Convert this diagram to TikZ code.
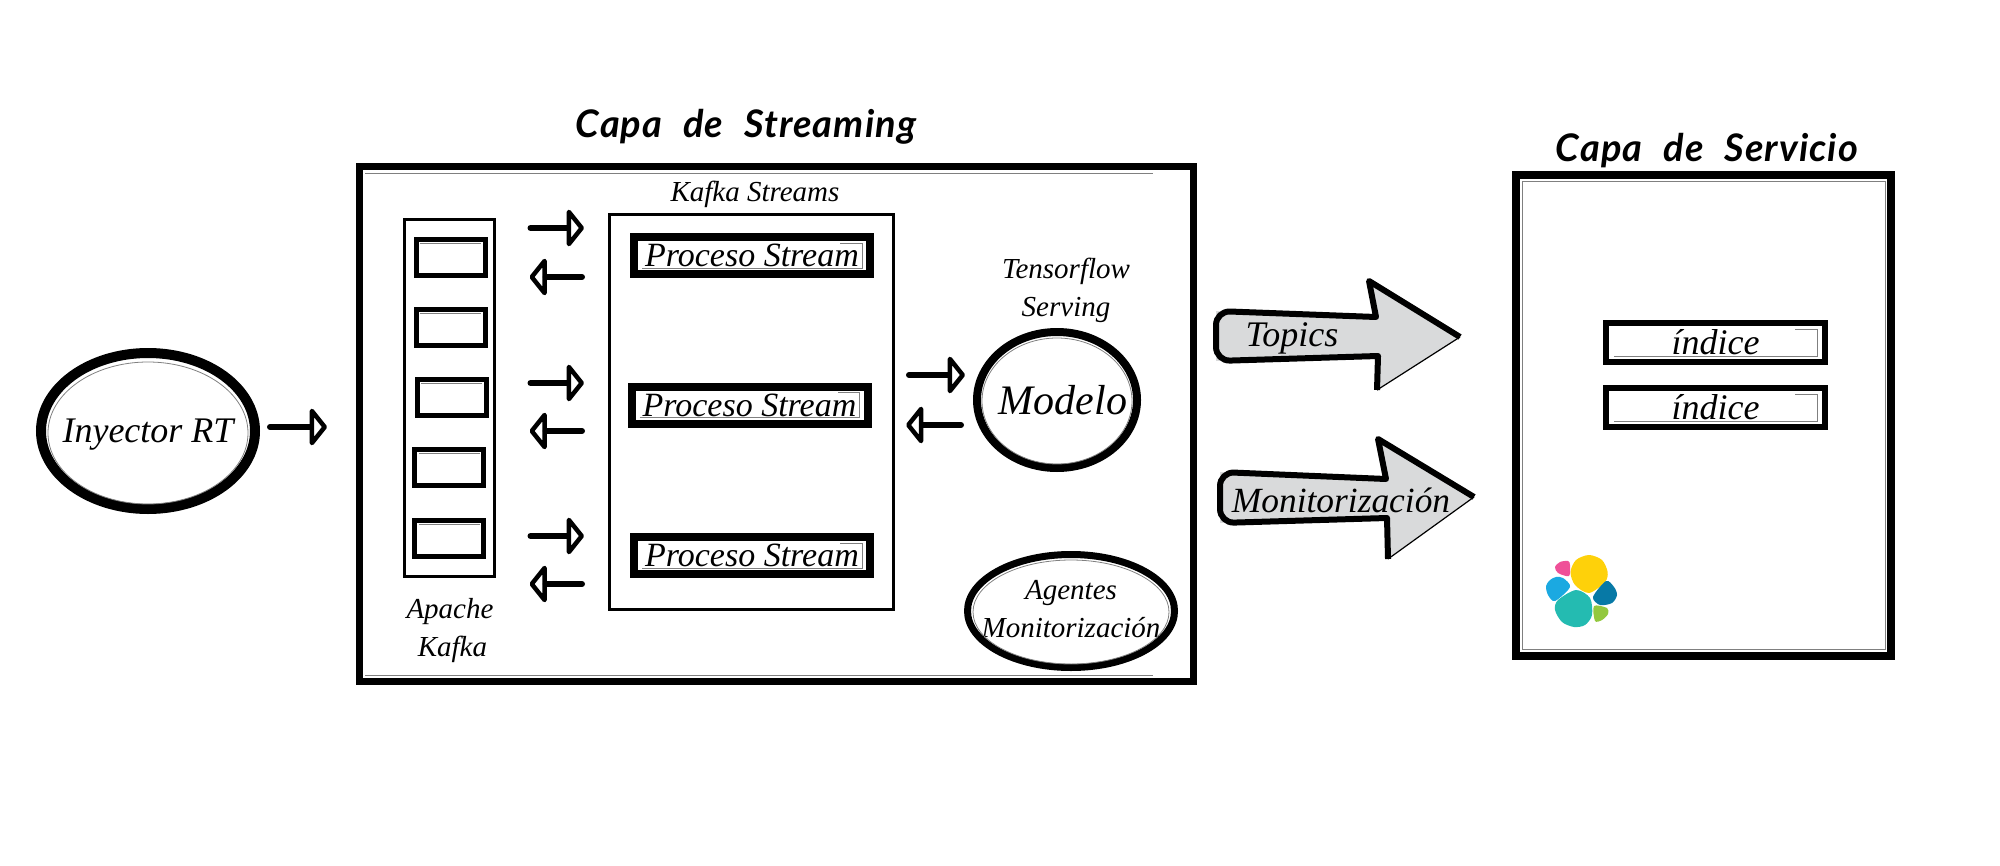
\documentclass[tikz,border=0pt]{standalone}
\usepackage{fontspec}
\setmainfont{Liberation Serif}
\newfontfamily\manoscrita[LetterSpace=3,WordSpace=2.2]{Lato}
\usetikzlibrary{arrows.meta,shapes.geometric}

\definecolor{grisflecha}{HTML}{D9DADB}
\definecolor{logoamarillo}{HTML}{FED10A}
\definecolor{logorosa}{HTML}{EF5098}
\definecolor{logoazul}{HTML}{1BA9E1}
\definecolor{logomarino}{HTML}{0779A6}
\definecolor{logoturquesa}{HTML}{24BBB1}
\definecolor{logoverde}{HTML}{93C83E}

\tikzset{
  texto/.style={font=\itshape\fontsize{#1}{19pt}\selectfont,inner sep=0pt,align=center},
  titulo/.style={font=\manoscrita\bfseries\itshape\fontsize{19}{22}\selectfont,inner sep=0pt},
  caja/.style={draw,outer sep=0pt,inner sep=0pt,line width=#1},
  fino/.style={gray,line width=0.4pt},
  flecha/.style={line width=3pt,line cap=round,
    -{Triangle[open,length=9pt,width=22pt,line width=2.8pt,round]}},
  borde/.style={line width=3pt,line join=round}
}

\begin{document}
\begin{tikzpicture}[x=0.5pt,y=-0.5pt] % 1 unit = 1 pixel of the reference
\useasboundingbox (0,0) rectangle (2000,866);

\node[titulo] (tstreaming) at (746,127) {Capa de Streaming};
\node[titulo] (tservicio) at (1707,151) {Capa de Servicio};

% capa de streaming
\node[caja=3.5pt,minimum width=417pt,minimum height=257pt] (capa) at (776,424) {};
\draw[fino] ([shift={(6,6)}]capa.north west) -- ([shift={(-40,6)}]capa.north east);
\draw[fino] ([shift={(6,-6)}]capa.south west) -- ([shift={(-40,-6)}]capa.south east);

\node[caja=1.5pt,minimum width=45pt,minimum height=178pt] (kafka) at (449.5,398) {};
\foreach \n/\x/\y in {1/450.5/257,2/450.5/327,3/451.5/397,4/449/467,5/449/538}
\node[caja=2.5pt,minimum width=34.5pt,minimum height=18pt] (topic\n) at (\x,\y) {};
\node[texto=14.5] (tkafka) at (450,631) {Apache\\ \,Kafka};

\node[caja=1.5pt,minimum width=142pt,minimum height=197pt] (streams) at (751,412) {};
\node[texto=14.5] (tstreams) at (755,194) {Kafka Streams};
\node[caja=4pt,texto=17,minimum width=118pt,minimum height=18.5pt] (proc1) at (752,255.5) {Proceso Stream};
\node[caja=4pt,texto=17,minimum width=118pt,minimum height=18.5pt] (proc2) at (749.5,405) {Proceso Stream};
\node[caja=4pt,texto=17,minimum width=118pt,minimum height=18.5pt] (proc3) at (752,555.5) {Proceso Stream};

\node[texto=14.5] (ttensor) at (1066,290) {Tensorflow\\ Serving};
\node[caja=4pt,ellipse,minimum width=80pt,minimum height=68pt] (modelo) at (1057,400) {};
\node[texto=21] (tmodelo) at ([xshift=3pt]modelo.center) {Modelo};
\node[caja=3.5pt,ellipse,minimum width=103.5pt,minimum height=56.5pt] (agentes) at (1071,611) {};
\node[texto=14.5] (tagentes) at ([yshift=1pt]agentes.center) {Agentes\\ Monitorización};

\node[caja=5pt,ellipse,minimum width=107pt,minimum height=78pt] (iny) at (148,431) {};
\node[texto=18] (tiny) at ([yshift=-2pt]iny.center) {Inyector RT};

\draw[fino] (1057,401) ellipse [x radius=75,y radius=63];
\draw[fino] (1071,612) ellipse [x radius=98,y radius=52];
\draw[fino] (148,433) ellipse [x radius=100,y radius=71];

% flechas
\draw[flecha,shorten <=7.5pt,shorten >=16pt] (iny.east |- 0,427) -- (capa.west |- 0,427);
\foreach \y in {228,383,536}
\draw[flecha,shorten <=18pt,shorten >=12.5pt] (kafka.east |- 0,\y) -- (streams.west |- 0,\y);
\foreach \y in {277,431,584}
\draw[flecha,shorten <=13.5pt,shorten >=17.5pt] (streams.west |- 0,\y) -- (kafka.east |- 0,\y);
\draw[flecha,shorten <=8pt,shorten >=6pt] (streams.east |- 0,375) -- (modelo.west |- 0,375);
\draw[flecha,shorten <=8pt,shorten >=6.5pt] (modelo.west |- 0,425) -- (streams.east |- 0,425);

% flechas grandes
\fill[grisflecha] (1216,311) -- (1376,317) -- (1369,281) -- (1460,337) -- (1377,390) -- (1378,356) -- (1216,361) -- cycle;
\draw[line width=0.6pt] (1377,390) -- (1460,337);
\draw[borde] (1460,337) -- (1369,281) -- (1376,317) [rounded corners=7pt] -- (1216,311) -- (1216,361) [sharp corners] -- (1378,356) -- (1377,390);
\node[texto=18] (ttopics) at (1292,338) {Topics};

\fill[grisflecha] (1220,472) -- (1386,479) -- (1378,439) -- (1474,497) -- (1388,559) -- (1387,518) -- (1220,523) -- cycle;
\draw[line width=0.6pt] (1388,559) -- (1474,497);
\draw[borde] (1474,497) -- (1378,439) -- (1386,479) [rounded corners=7pt] -- (1220,472) -- (1220,523) [sharp corners] -- (1387,518) -- (1388,559);
\node[texto=17.7] (tmonit) at (1341,500) {Monitorización};

% capa de servicio
\node[caja=4pt,minimum width=187.5pt,minimum height=240pt] (servicio) at (1703.5,415.5) {};
\node[caja=3pt,texto=18,minimum width=109.5pt,minimum height=19.5pt] (ind1) at (1715.5,342.5) {índice};
\node[caja=3pt,texto=18,minimum width=109.5pt,minimum height=19.5pt] (ind2) at (1715.5,407.5) {índice};

\draw[fino] ([shift={(6,6)}]servicio.north west) rectangle ([shift={(-6,-6)}]servicio.south east);
% linea fina abajo y a la derecha
\foreach \n in {ind1,ind2,proc1,proc2,proc3}
\draw[fino] ([shift={(8,-6)}]\n.south west) -- ([shift={(-8,-6)}]\n.south east) -- ([shift={(-8,6)}]\n.north east) -- ([shift={(-30,6)}]\n.north east);
\foreach \n in {1,2,3,4,5}
\draw[fino] ([shift={(4,4)}]topic\n.north west) -- ([shift={(-4,4)}]topic\n.north east);

% logo
\fill[logoamarillo] plot[smooth cycle] coordinates {(1589,555) (1602,560) (1607.6,572) (1605,582) (1589,593) (1575,585) (1570.5,572) (1576,560)};
\fill[logorosa] plot[smooth cycle] coordinates {(1568,561) (1570,565) (1569,576) (1558,573) (1555,567) (1560,562)};
\fill[logoazul] plot[smooth cycle] coordinates {(1556,577) (1563,578) (1570,587) (1555,601) (1548,595) (1546,586) (1550,580)};
\fill[logomarino] plot[smooth cycle] coordinates {(1606,581) (1614,587) (1617,595) (1612,603) (1600,605) (1593,597)};
\fill[logoturquesa] plot[smooth cycle] coordinates {(1576,590) (1590,598) (1592,615) (1585,625) (1574,627) (1562,622) (1555,610) (1558,600)};
\fill[logoverde] plot[smooth cycle] coordinates {(1594,606) (1607,608) (1608,614) (1602,620) (1595,621)};

\end{tikzpicture}
\end{document}
